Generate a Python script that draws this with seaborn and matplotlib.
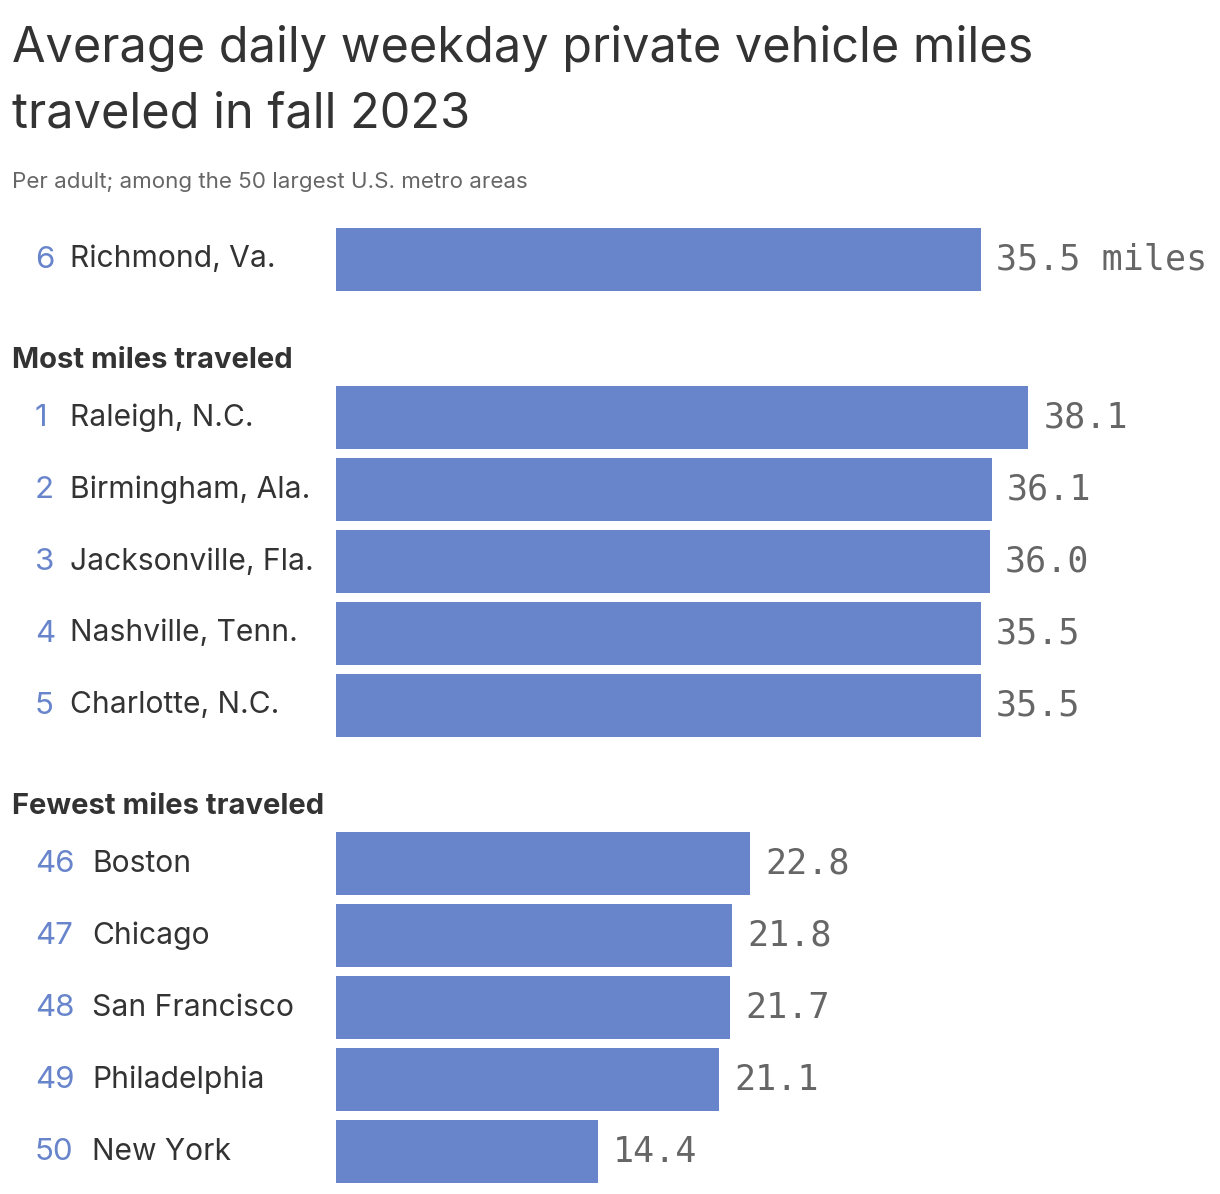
import matplotlib
matplotlib.use("Agg")
import matplotlib.pyplot as plt
import matplotlib.transforms as mtransforms
import seaborn as sns
import pandas as pd

# ---- data ----
featured_rank = [6]
featured_city = ["Richmond, Va."]
featured_miles = [35.5]

top_ranks = [1, 2, 3, 4, 5]
top_cities = ["Raleigh, N.C.", "Birmingham, Ala.", "Jacksonville, Fla.", "Nashville, Tenn.", "Charlotte, N.C."]
top_miles = [38.1, 36.1, 36.0, 35.5, 35.5]

bottom_ranks = [46, 47, 48, 49, 50]
bottom_cities = ["Boston", "Chicago", "San Francisco", "Philadelphia", "New York"]
bottom_miles = [22.8, 21.8, 21.7, 21.1, 14.4]

title_lines = ["Average daily weekday private vehicle miles", "traveled in fall 2023"]
subtitle = "Per adult; among the 50 largest U.S. metro areas"
top_header = "Most miles traveled"
bottom_header = "Fewest miles traveled"

# ---- style ----
sns.set_theme(style="white")
plt.rcParams["font.family"] = ["Inter", "DejaVu Sans"]
BAR = "#6884CB"
DARK = "#333333"
GREY = "#666666"
MONO = ["DejaVu Sans Mono"]

W, H = 1220, 1194
fig = plt.figure(figsize=(W / 100, H / 100), dpi=100)
fig.patch.set_facecolor("white")

PX_PER_MILE = 18.163
X0 = 336
XMAX = (W - X0) / PX_PER_MILE


def fy(py):
    return 1 - py / H


def make_panel(top_px, bottom_px, ranks, cities, miles, name_x, first_suffix=""):
    ax = fig.add_axes([X0 / W, fy(bottom_px), (W - X0) / W, (bottom_px - top_px) / H])
    df = pd.DataFrame({"city": cities, "miles": miles})
    sns.barplot(data=df, x="miles", y="city", orient="h", color=BAR, saturation=1,
                width=0.88, ax=ax, errorbar=None, linewidth=0)
    n = len(cities)
    ax.set_xlim(0, XMAX)
    ax.set_ylim(n - 0.5, -0.5)
    ax.set_axis_off()
    labels = [f"{v:.1f}" for v in miles]
    if first_suffix:
        labels[0] = labels[0] + first_suffix
    texts = ax.bar_label(ax.containers[0], labels=labels, padding=11, fontsize=25.2,
                         color=GREY, family=MONO)
    for t in texts:
        t.set_va("center")
    tr = mtransforms.blended_transform_factory(fig.transFigure, ax.transData)
    for i, (r, c) in enumerate(zip(ranks, cities)):
        ax.text(35 / W, i, str(r), transform=tr, fontsize=22.5, color=BAR,
                ha="left", va="center", clip_on=False)
        ax.text(name_x / W, i, c, transform=tr, fontsize=21.6, color=DARK,
                ha="left", va="center", clip_on=False)
    return ax


make_panel(223.5, 295.5, featured_rank, featured_city, featured_miles, 70, " miles")
make_panel(381.5, 741.5, top_ranks, top_cities, top_miles, 70)
make_panel(827.5, 1187.5, bottom_ranks, bottom_cities, bottom_miles, 92)

fig.text(12 / W, fy(62), title_lines[0], fontsize=35, color=DARK, va="baseline", ha="left")
fig.text(12 / W, fy(128), title_lines[1], fontsize=35, color=DARK, va="baseline", ha="left")
fig.text(12 / W, fy(188), subtitle, fontsize=16.1, color=GREY, va="baseline", ha="left")
fig.text(12 / W, fy(368), top_header, fontsize=21, fontweight="bold", color=DARK,
         va="baseline", ha="left")
fig.text(12 / W, fy(814), bottom_header, fontsize=21, fontweight="bold", color=DARK,
         va="baseline", ha="left")

fig.savefig("out.png", dpi=100, facecolor="white")
